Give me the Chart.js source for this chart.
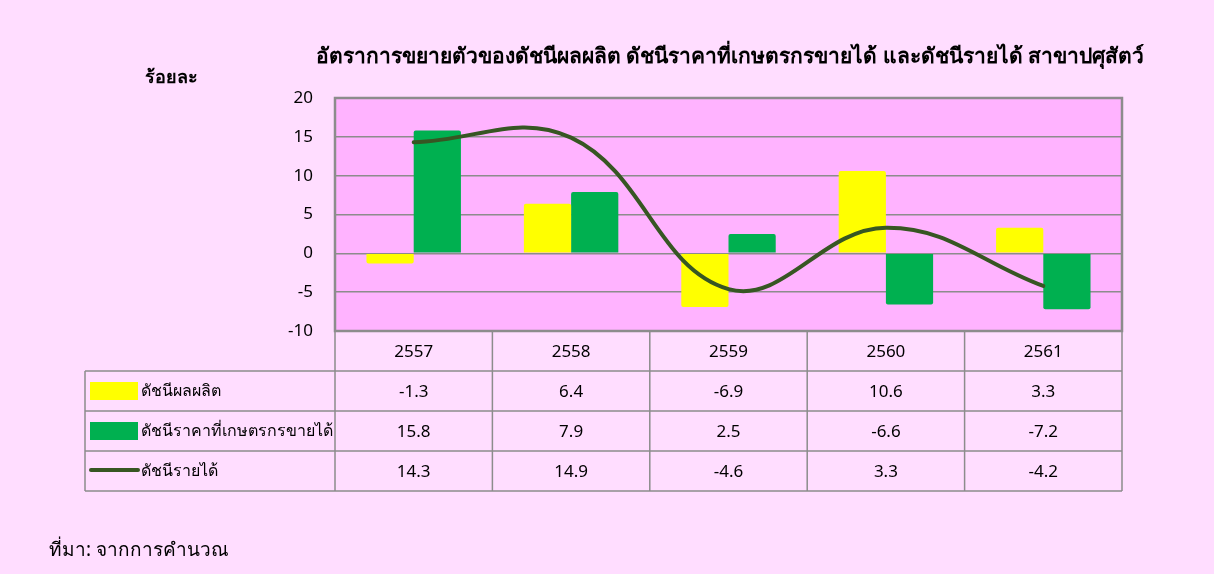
<!DOCTYPE html>
<html>
<head>
<meta charset="utf-8">
<script src="https://cdn.jsdelivr.net/npm/chart.js@4.4.1/dist/chart.umd.min.js"></script>
<style>
    html, body { margin: 0; padding: 0; background: #FFDDFF; }
    #wrap { width: 1214px; height: 574px; }
</style>
</head>
<body>
<div id="wrap"><canvas id="growthChart" width="1214" height="574"></canvas></div>
<script>
const years = ['2557', '2558', '2559', '2560', '2561'];
const productionIndex = [-1.3, 6.4, -6.9, 10.6, 3.3];
const priceIndex = [15.8, 7.9, 2.5, -6.6, -7.2];
const incomeIndex = [14.3, 14.9, -4.6, 3.3, -4.2];
const seriesNames = ['ดัชนีผลผลิต', 'ดัชนีราคาที่เกษตรกรขายได้', 'ดัชนีรายได้'];
const yMin = -10, yMax = 20, yStep = 5;

const titleText = 'อัตราการขยายตัวของดัชนีผลผลิต ดัชนีราคาที่เกษตรกรขายได้ และดัชนีรายได้ สาขาปศุสัตว์';
const unitText = 'ร้อยละ';
const sourceText = 'ที่มา: จากการคำนวณ';

const FONT = 'Tahoma, "Noto Sans", "DejaVu Sans", sans-serif';
const GRID = '#8C8C8C';
const colors = ['#FFFF00', '#00B050', '#375623'];

// draws title, unit label, data table with legend keys, source note
const tablePlugin = {
    id: 'tablePlugin',
    beforeDraw(chart) {
        let ctx = chart.ctx;
        let a = chart.chartArea;
        ctx.save();
        ctx.fillStyle = '#FFB3FF';
        ctx.fillRect(a.left, a.top, a.right - a.left, a.bottom - a.top);
        ctx.restore();
    },
    afterDraw(chart) {
        let ctx = chart.ctx;
        let a = chart.chartArea;
        let x = chart.scales.x;
        let colW = (a.right - a.left) / years.length;
        let rowH = 40;
        let labelLeft = 85;

        ctx.save();
        // plot border
        ctx.strokeStyle = GRID;
        ctx.lineWidth = 2.5;
        ctx.strokeRect(a.left, a.top, a.right - a.left, a.bottom - a.top);

        // table grid
        ctx.lineWidth = 1.5;
        ctx.beginPath();
        ctx.moveTo(a.right, a.bottom);
        ctx.lineTo(a.right, a.bottom + rowH * 4);
        for (let i = 0; i < years.length; i++) {
            let lx = a.left + colW * i;
            ctx.moveTo(lx, a.bottom);
            ctx.lineTo(lx, a.bottom + rowH * 4);
        }
        ctx.moveTo(labelLeft, a.bottom + rowH);
        ctx.lineTo(labelLeft, a.bottom + rowH * 4);
        for (let r = 1; r <= 4; r++) {
            ctx.moveTo(labelLeft, a.bottom + rowH * r);
            ctx.lineTo(a.right, a.bottom + rowH * r);
        }
        ctx.stroke();

        ctx.fillStyle = '#000';
        ctx.textAlign = 'center';
        ctx.textBaseline = 'middle';
        ctx.font = '17px ' + FONT;
        years.forEach(function (y, i) {
            ctx.fillText(y, x.getPixelForValue(i), a.bottom + rowH / 2 + 1);
        });
        let rows = [productionIndex, priceIndex, incomeIndex];
        rows.forEach(function (vals, r) {
            let cy = a.bottom + rowH * (r + 1) + rowH / 2 + 1;
            vals.forEach(function (v, i) {
                ctx.fillText(v.toFixed(1), x.getPixelForValue(i), cy);
            });
        });

        // legend keys inside the table
        rows.forEach(function (vals, r) {
            let cy = a.bottom + rowH * (r + 1) + rowH / 2;
            if (r < 2) {
                ctx.fillStyle = colors[r];
                ctx.fillRect(labelLeft + 5, cy - 9, 48, 18);
            } else {
                ctx.strokeStyle = colors[2];
                ctx.lineWidth = 4;
                ctx.lineCap = 'round';
                ctx.beginPath();
                ctx.moveTo(labelLeft + 6, cy - 1);
                ctx.lineTo(labelLeft + 53, cy - 1);
                ctx.stroke();
            }
            ctx.fillStyle = '#000';
            ctx.textAlign = 'left';
            ctx.font = '16px ' + FONT;
            ctx.fillText(seriesNames[r], labelLeft + 56, cy);
        });

        // title and notes
        ctx.textAlign = 'center';
        ctx.font = 'bold 21px ' + FONT;
        ctx.fillText(titleText, 730, 57);
        ctx.textAlign = 'left';
        ctx.font = 'bold 18px ' + FONT;
        ctx.fillText(unitText, 145, 78);
        ctx.font = '19px ' + FONT;
        ctx.fillText(sourceText, 49, 551);
        ctx.restore();
    },
};

function buildChart() {
    let ctx = document.getElementById('growthChart').getContext('2d');
    let growthChart = new Chart(ctx, {
        type: 'bar',
        data: {
            labels: years,
            datasets: [
                {
                    label: seriesNames[0],
                    data: productionIndex,
                    backgroundColor: colors[0],
                    borderRadius: 2,
                    categoryPercentage: 0.6,
                    barPercentage: 1.0,
                    order: 1,
                },
                {
                    label: seriesNames[1],
                    data: priceIndex,
                    backgroundColor: colors[1],
                    borderRadius: 2,
                    categoryPercentage: 0.6,
                    barPercentage: 1.0,
                    order: 1,
                },
                {
                    label: seriesNames[2],
                    data: incomeIndex,
                    type: 'line',
                    borderColor: colors[2],
                    borderWidth: 4,
                    borderCapStyle: 'round',
                    tension: 0.4,
                    pointRadius: 0,
                    fill: false,
                    order: 0,
                },
            ],
        },
        options: {
            responsive: false,
            animation: false,
            layout: {
                padding: { left: 0, top: 98, right: 92, bottom: 243 },
            },
            plugins: {
                legend: { display: false },
                tooltip: { enabled: false },
                title: { display: false },
            },
            scales: {
                x: {
                    display: false,
                },
                y: {
                    min: yMin,
                    max: yMax,
                    ticks: {
                        stepSize: yStep,
                        padding: 22,
                        color: '#000',
                        font: { family: FONT, size: 17 },
                    },
                    grid: {
                        color: GRID,
                        lineWidth: 1.5,
                        drawTicks: false,
                    },
                    border: { display: false },
                    afterFit: function (scale) {
                        scale.width = 335;
                    },
                },
            },
        },
        plugins: [tablePlugin],
    });
}

buildChart();
</script>
</body>
</html>
